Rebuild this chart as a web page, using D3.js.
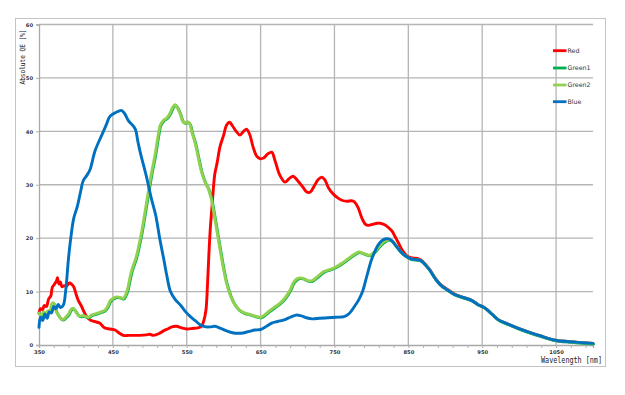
<!DOCTYPE html>
<html><head><meta charset="utf-8">
<script src="https://cdn.jsdelivr.net/npm/d3@7"></script>
<style>body{margin:0;background:#fff}svg{display:block}</style>
</head><body><svg id="c" width="625" height="395"></svg>
<script>
// ---- data (wavelength nm, absolute QE %) ----
const seriesNames = ["Red", "Green1", "Green2", "Blue"];
const xTicks = [350, 450, 550, 650, 750, 850, 950, 1050];
const yTicks = [0, 10, 20, 30, 40, 50, 60];

const blueQE = [[350,3.3],[352,5.2],[355,4.6],[358,5.8],[361,5.0],[364,6.2],[367,6.0],[370,7.2],[373,6.8],[376,7.6],[379,7.0],[383,7.5],[386,10],[390,16.3],[393,20],[397,23.7],[402,26],[406,28.5],[410,30.8],[415,31.8],[419,32.8],[426,36.4],[435,39.3],[441,41.2],[446,42.8],[452,43.4],[458,43.8],[462,43.9],[466,43.3],[471,42],[480,40.5],[484,38],[487,36.1],[496,31.2],[502,27.5],[508,24.3],[514,19.5],[519,16],[523,13],[528,10],[534,8.6],[542,7.4],[548,6.3],[555,5.3],[562,4.5],[569,3.7],[576,3.4],[582,3.4],[588,3.5],[596,3.1],[605,2.6],[612,2.3],[620,2.2],[628,2.3],[636,2.6],[642,2.8],[650,2.9],[658,3.5],[665,4.1],[673,4.4],[682,4.7],[690,5.2],[698,5.6],[704,5.5],[712,5.1],[720,4.9],[730,5.0],[741,5.1],[752,5.2],[763,5.3],[770,5.9],[777,7.2],[783,8.5],[788,10],[794,13],[800,15.9],[805,17.6],[809,18.7],[815,19.6],[820,19.9],[826,19.7],[833,18.6],[840,17.4],[847,16.6],[854,16.1],[860,16.0],[867,15.8],[873,15.0],[879,14],[886,12.5],[893,11.3],[903,10.3],[912,9.5],[922,9.0],[935,8.4],[944,7.6],[954,6.9],[963,5.8],[972,4.7],[985,3.9],[999,3.1],[1015,2.3],[1031,1.6],[1045,1.0],[1053,0.8],[1070,0.6],[1085,0.45],[1100,0.3]];

const redQE = [[350,5.9],[352,6.8],[355,6.6],[357,7.4],[360,7.2],[363,8.6],[366,9.2],[368,10.8],[370,11.2],[372,11.6],[374,12.1],[375,12.6],[377,11.4],[379,11.8],[381,10.9],[384,11.1],[387,11.0],[391,11.6],[394,11.4],[397,10.9],[400,9.6],[403,8.4],[407,7.4],[410,6.5],[414,5.4],[419,4.7],[425,4.4],[432,4.1],[439,3.2],[446,3.0],[453,2.8],[458,2.3],[464,1.8],[472,1.8],[480,1.8],[487,1.8],[495,1.9],[500,2.0],[505,1.8],[512,2.1],[518,2.6],[524,3.0],[530,3.4],[536,3.5],[543,3.2],[550,3.0],[558,3.1],[565,3.2],[570,3.5],[573,4.5],[576,6.5],[578,11],[580,17],[582,22],[584,25.5],[588,32],[591,34],[595,37.1],[600,39.3],[604,41.2],[608,41.7],[612,41.0],[617,40.0],[622,39.3],[627,40.0],[631,40.4],[635,39.5],[640,37.0],[645,35.3],[649,34.9],[654,35.0],[660,35.8],[665,36.1],[670,34.3],[676,31.8],[683,30.5],[689,31.2],[694,31.6],[700,30.8],[707,29.6],[712,28.7],[717,28.6],[722,29.6],[728,31.0],[733,31.4],[737,30.9],[742,29.4],[748,28.3],[753,27.7],[760,27.1],[767,26.9],[773,27.0],[777,26.8],[782,25.7],[787,23.8],[792,22.6],[796,22.4],[802,22.6],[808,22.8],[812,22.8],[818,22.5],[823,22.0],[828,21.3],[832,20.3],[837,19.0],[842,17.7],[848,16.7],[855,16.3],[862,16.2],[867,15.9],[873,15.1],[879,14.1],[886,12.6],[893,11.4],[903,10.4],[912,9.6],[922,9.0],[935,8.4],[944,7.6],[954,6.9],[963,5.8],[972,4.7],[985,3.9],[999,3.1],[1015,2.3],[1031,1.6],[1045,1.0],[1053,0.8],[1070,0.6],[1085,0.45],[1100,0.3]];

const green2QE = [[350,6.0],[353,5.5],[356,6.2],[359,5.8],[362,6.4],[365,6.5],[367,7.6],[369,7.9],[371,7.5],[373,6.4],[376,5.6],[380,4.9],[383,4.8],[386,5.2],[390,5.8],[393,6.6],[396,6.9],[399,6.4],[403,5.6],[406,5.4],[410,5.5],[414,5.3],[417,5.2],[421,5.6],[428,5.9],[434,6.2],[439,6.5],[443,7.2],[446,8.2],[450,8.7],[455,9.0],[460,8.9],[464,8.7],[467,9.3],[470,10.5],[473,12.5],[476,14.2],[481,16.2],[485,18.5],[489,21.2],[493,24.5],[498,28.7],[502,32],[507,35.5],[511,39],[514,41.1],[518,42],[523,42.5],[527,43.3],[531,44.5],[534,45],[537,44.5],[541,43.3],[545,41.8],[548,41.6],[551,41.8],[554,41.4],[557,39.8],[561,38.0],[565,35.5],[570,32.4],[575,30.4],[579,29.3],[583,27.5],[588,23.7],[593,19.6],[599,14.8],[604,11.5],[609,9.3],[614,7.8],[620,6.7],[628,6.0],[636,5.7],[643,5.4],[650,5.2],[655,5.6],[661,6.3],[668,7.0],[676,7.8],[683,8.8],[690,10.3],[695,11.8],[701,12.5],[707,12.5],[713,12.1],[719,12.0],[727,12.8],[735,13.7],[745,14.2],[753,14.7],[760,15.3],[767,16.0],[775,16.8],[783,17.4],[790,17.1],[798,16.8],[805,17.6],[812,18.7],[818,19.4],[823,19.7],[828,19.5],[833,18.6],[840,17.4],[847,16.6],[854,16.1],[860,16.0],[867,15.8],[873,15.0],[879,14],[886,12.5],[893,11.3],[903,10.3],[912,9.5],[922,9.0],[935,8.4],[944,7.6],[954,6.9],[963,5.8],[972,4.7],[985,3.9],[999,3.1],[1015,2.3],[1031,1.6],[1045,1.0],[1053,0.8],[1070,0.6],[1085,0.45],[1100,0.3]];

const green1QE = green2QE; // Green1 lies under Green2 in the reference

const colors = {Red:"#ff0000", Green1:"#00b050", Green2:"#92d050", Blue:"#0070c0"};
const dataByName = {Red:redQE, Green1:green1QE, Green2:green2QE, Blue:blueQE};

// ---- layout ----
const svg = d3.select("#c");
const L = 39, R = 593, T = 24.5, B = 345;
const x = d3.scaleLinear().domain([350, 1100]).range([L, R]);
const y = d3.scaleLinear().domain([0, 60]).range([B, T]);

svg.append("rect").attr("x",15.5).attr("y",18.5).attr("width",590).attr("height",348)
  .attr("fill","#fff").attr("stroke","#c4c4c4").attr("stroke-width",1);

const grid = svg.append("g");
grid.selectAll("line.h").data(yTicks.filter(d=>d>0)).join("line")
  .attr("x1",L).attr("x2",R).attr("y1",d=>y(d)).attr("y2",d=>y(d))
  .attr("stroke","#b5b5b5").attr("stroke-width",1.3);
grid.selectAll("line.v").data(xTicks.filter(d=>d>350)).join("line")
  .attr("x1",d=>x(d)).attr("x2",d=>x(d)).attr("y1",T).attr("y2",B)
  .attr("stroke","#b5b5b5").attr("stroke-width",1.3);

// axes
const xAxis = d3.axisBottom(x).tickValues(d3.range(350, 1101, 20)).tickSize(3).tickFormat("");
const gx = svg.append("g").attr("transform",`translate(0,${B})`).call(xAxis);
gx.select(".domain").attr("stroke","#a8a8a8").attr("stroke-width",1.3);
gx.selectAll(".tick line").attr("stroke","#b0b0b0");
const xLab = svg.append("g").attr("transform",`translate(0,${B})`)
  .call(d3.axisBottom(x).tickValues(xTicks).tickSize(0).tickPadding(5).tickFormat(d3.format("d")));
xLab.select(".domain").remove();
xLab.selectAll("text").attr("font-family","DejaVu Sans").attr("font-size",5.2).attr("fill","#333").attr("font-weight","bold");

const yAxis = d3.axisLeft(y).tickValues(yTicks).tickSize(3).tickPadding(3);
const gy = svg.append("g").attr("transform",`translate(${L},0)`).call(yAxis);
gy.select(".domain").attr("stroke","#a8a8a8").attr("stroke-width",1.3);
gy.selectAll(".tick line").attr("stroke","#b0b0b0");
gy.selectAll("text").attr("font-family","DejaVu Sans").attr("font-size",5.2).attr("fill","#333").attr("font-weight","bold");

// titles
svg.append("text").attr("transform","translate(24.5,57) rotate(-90)").attr("text-anchor","middle")
  .attr("font-family","DejaVu Sans Mono").attr("font-size",7.2).attr("fill","#222")
  .attr("textLength",55).attr("lengthAdjust","spacingAndGlyphs").text("Absolute QE [%]");
svg.append("text").attr("x",602).attr("y",362.5).attr("text-anchor","end")
  .attr("font-family","DejaVu Sans Mono").attr("font-size",8).attr("fill","#222")
  .attr("textLength",61).attr("lengthAdjust","spacingAndGlyphs").text("Wavelength [nm]");

// lines
const line = d3.line().x(d=>x(d[0])).y(d=>y(d[1])).curve(d3.curveCatmullRom.alpha(0.5));
const order = ["Red","Green1","Green2","Blue"];
const gl = svg.append("g");
order.forEach(n=>{
  gl.append("path").datum(dataByName[n]).attr("d",line)
    .attr("fill","none").attr("stroke",colors[n]).attr("stroke-width",2.9)
    .attr("stroke-linejoin","round").attr("stroke-linecap","round")
    .attr("transform", n==="Green1" ? "translate(0.6,0.6)" : null);
});

// legend
const lg = svg.append("g");
const ly = [50.7, 68, 85, 101.7];
seriesNames.forEach((n,i)=>{
  lg.append("line").attr("x1",553).attr("x2",566.5).attr("y1",ly[i]).attr("y2",ly[i])
    .attr("stroke",colors[n]).attr("stroke-width",2.8);
  lg.append("text").attr("x",567.5).attr("y",ly[i]+2.3).attr("font-family","DejaVu Sans")
    .attr("font-size",6.3).attr("fill","#333").text(n);
});
</script></body></html>
